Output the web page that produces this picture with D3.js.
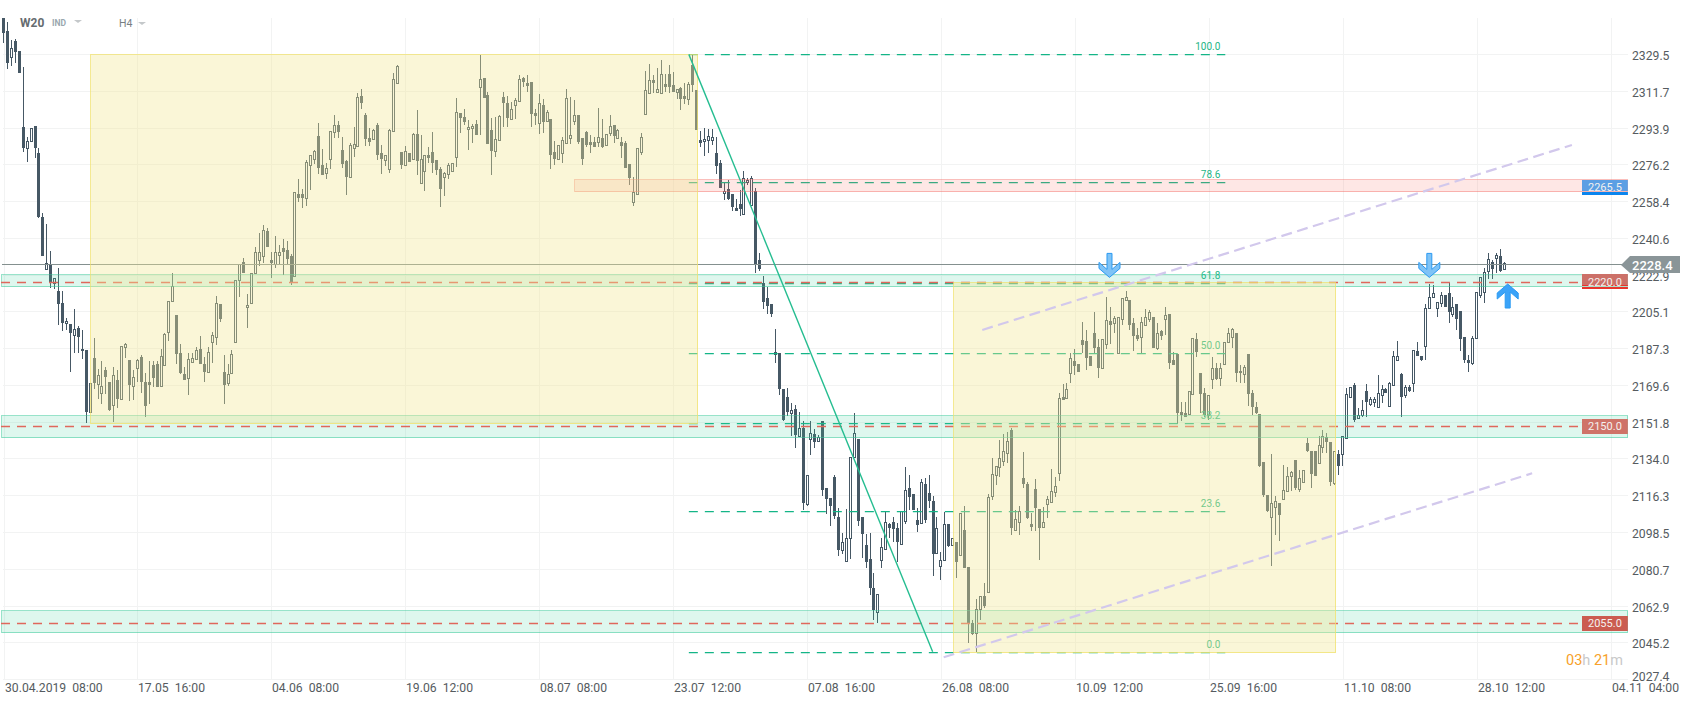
<!DOCTYPE html>
<html><head><meta charset="utf-8">
<script src="https://cdn.jsdelivr.net/npm/d3@7"></script>
<style>html,body{margin:0;padding:0;background:#fff}svg{display:block;font-family:Roboto,sans-serif}</style>
</head><body><svg id="c" width="1692" height="705"></svg>
<script>
// open, high, low, close for each 4-hour bar
const ohlc = [
[2347.2,2347.2,2335.5,2340.3],[2341.1,2345.3,2322.9,2325.5],[2328.7,2336.8,2324.4,2332.7],[2336.4,2337.1,2325.8,2331.1],[2331.4,2331.4,2321,2321],[2294.7,2323.6,2282.8,2284.7],[2284.7,2289.7,2278,2287.8],[2287.8,2294.1,2287.8,2294.1],[2295,2295,2279.9,2284.4],[2282.2,2284.4,2250.9,2251.2],
[2251,2253,2232.5,2232.5],[2225.9,2247.8,2225.9,2228.8],[2228,2234.8,2217.1,2219.2],[2219.2,2221.6,2216.6,2221.6],[2215.5,2226.6,2199.2,2209.3],[2209.7,2215.5,2196.3,2199.8],[2199.8,2202.6,2196.6,2200.8],[2199.3,2199.3,2176.5,2195.3],[2194.4,2206.8,2185.7,2196.9],[2197.6,2198.4,2185.7,2193.4],
[2187.3,2196.6,2182.8,2186.2],[2187,2187,2151.5,2156.7],[2156.7,2170.8,2156.7,2170.8],[2182.9,2192.6,2167.9,2170.8],[2170.5,2177.6,2163.4,2174.7],[2166,2181.5,2160.8,2169.5],[2177.3,2178.6,2165.7,2174],[2171.5,2171.5,2157.5,2158],[2160.5,2178.6,2152.3,2174.7],[2172.4,2177.3,2158.9,2163.4],
[2163.4,2188.9,2163.4,2188.9],[2188.6,2190.2,2182.9,2189.7],[2182.1,2182.1,2162.1,2170.2],[2169.7,2177.3,2162.5,2173.7],[2178.4,2182.4,2171.2,2182.1],[2183.6,2184.4,2166.3,2171.2],[2171.5,2176,2154.7,2160],[2171.5,2181.5,2160.8,2170],[2179.7,2181.8,2169.2,2173.6],[2180.2,2181.8,2168.9,2169.1],
[2169.7,2187.3,2169.7,2184.1],[2179.5,2195.3,2179.5,2194.7],[2195.8,2210.5,2191.4,2210.5],[2210.8,2224,2210.8,2217.7],[2203.9,2203.9,2180.3,2185.2],[2185.3,2189.8,2175.3,2175.7],[2175.3,2178.9,2172.6,2172.6],[2173.6,2185.3,2165.2,2182.4],[2181.3,2185.3,2181.3,2182.9],[2182.8,2188.2,2182.8,2187],
[2187.3,2193.7,2180.3,2180.3],[2180.2,2183.4,2171.6,2176.5],[2176.3,2188.6,2176,2186],[2190.6,2195.6,2180.8,2194],[2193.4,2213,2189.4,2209.5],[2209.2,2209.2,2200.6,2202.1],[2176.2,2184.5,2160.8,2170.2],[2170.8,2180.2,2169.5,2175.2],[2175.7,2187,2175.7,2184.8],[2190.6,2220.8,2190.6,2220.8],
[2220.8,2228.5,2212.7,2228.5],[2229.3,2231.2,2224.3,2224.3],[2207.6,2214,2197.6,2208.9],[2209.5,2224.3,2209.5,2224.3],[2224,2236.6,2224,2234.5],[2230.6,2243.7,2227.7,2234.1],[2232.5,2247.4,2228.8,2244.9],[2244.6,2245.7,2236.9,2236.9],[2230.6,2234.5,2221.9,2229],[2228.5,2242,2226.4,2234.1],
[2232.9,2237.7,2228.5,2234.1],[2236.1,2240.6,2223.2,2234.1],[2235.3,2239.8,2228,2230.9],[2232.4,2233.3,2218.4,2219.5],[2222.5,2263.1,2222.5,2263.1],[2262.2,2269.4,2258.3,2260.4],[2262.2,2264.8,2255.7,2260.4],[2260.4,2278.8,2256.7,2277.6],[2276.5,2281,2264.3,2281],[2279.4,2283.6,2276.8,2283.1],
[2290.4,2296.5,2272,2275.1],[2276.2,2284.1,2271.5,2271.5],[2272.6,2277.2,2269.6,2274.7],[2279.4,2292.6,2274.3,2292.6],[2292.5,2300.4,2289.6,2295.5],[2295.5,2297.6,2289.6,2292.5],[2283.6,2289.7,2275.1,2276.8],[2278.3,2278.8,2261.9,2270.7],[2270.7,2286.8,2270.7,2285.9],[2284.7,2294.9,2280.4,2286.7],
[2285.7,2311,2285.7,2309],[2309.7,2312.9,2303.6,2306.5],[2300.4,2301.3,2285.7,2289.1],[2289.2,2294.1,2285.7,2287.6],[2288.8,2293.6,2288.8,2293.1],[2295.5,2296.5,2278.8,2281.4],[2282,2286,2272,2279.4],[2278.9,2281,2276,2281],[2274.6,2293.6,2272.3,2293.1],[2292.6,2320.7,2292.6,2317.8],
[2315.8,2324.5,2315.8,2324.2],[2282.5,2282.5,2274.4,2276.5],[2276.5,2285.7,2276.5,2283],[2282,2282,2277.6,2277.6],[2279.4,2291.7,2279.4,2291.3],[2291.3,2302.9,2271.5,2278.4],[2267.5,2290.9,2267.5,2279.1],[2273.6,2281,2263.9,2281],[2281,2285.2,2277.2,2279.6],[2282.5,2292.3,2272.3,2277.5],
[2278.8,2278.8,2271.5,2273.9],[2274.3,2275.2,2256.2,2264.9],[2270.7,2273.1,2261.5,2272.3],[2271.8,2277.5,2269.6,2276.4],[2273.6,2277.5,2273.6,2277.2],[2280.4,2308.6,2275.6,2301.8],[2301.3,2301.3,2292,2299.2],[2299.4,2303.4,2295.7,2297.1],[2293.6,2298.1,2283.6,2294.6],[2294.1,2296,2286.8,2295.4],
[2296.2,2298.1,2290.9,2290.9],[2313.9,2329.5,2290.9,2317.8],[2318.2,2318.2,2308.6,2308.9],[2310,2311.6,2286.7,2286.7],[2293.3,2298.9,2271.7,2283.3],[2283.3,2299.4,2280.4,2288.8],[2288.4,2300.5,2288.4,2300],[2309,2311.6,2294.6,2306.3],[2306.2,2309.9,2294.6,2299.1],[2298.7,2307,2298.1,2303.4],
[2305.2,2308.9,2298.7,2307.8],[2307.4,2319.9,2307.4,2317.8],[2318.2,2319,2314.2,2316.6],[2315.8,2319.9,2311.8,2314.7],[2316.5,2316.5,2294.9,2301.2],[2301.3,2303.3,2295.7,2300],[2296.8,2310.7,2291.3,2306.2],[2305.4,2308.3,2291.7,2297.3],[2297.8,2302.9,2297.3,2301.8],[2298.6,2298.6,2274.4,2281.3],
[2282.5,2287.9,2276.4,2279.4],[2279.4,2285.9,2279.4,2285.9],[2282.3,2289.7,2277.2,2288.3],[2286.8,2312.9,2286.8,2308.6],[2289.6,2309,2286.3,2290.7],[2297.8,2307.8,2295.8,2300.4],[2300.4,2300.4,2286.5,2287.6],[2289.2,2289.2,2276.4,2279.4],[2292.3,2292.8,2285.2,2286.2],[2287.5,2290.7,2282.3,2286.2],
[2287.5,2289.7,2284.9,2285.2],[2287.6,2303.7,2285.2,2289.7],[2289.2,2298.4,2284.6,2285.2],[2285.9,2291.2,2285.9,2291.2],[2292,2300.5,2290.4,2295.4],[2295.5,2295.5,2286.8,2290.5],[2289.6,2293.9,2289.6,2293.1],[2287.5,2289.7,2279.6,2285.5],[2287,2288.1,2275.1,2275.1],[2276.7,2276.7,2266.7,2270.1],
[2258.6,2270.7,2256.7,2263.1],[2262.2,2284.4,2262.2,2284.4],[2282.5,2291.7,2281.2,2290],[2300.8,2321.9,2300.8,2312.4],[2311.3,2325.2,2311.3,2317.3],[2317.3,2319.9,2311,2316],[2311.6,2323,2311,2312.9],[2311.3,2327.1,2310.7,2320.2],[2315.3,2320.2,2311.5,2314.2],[2320.2,2324.7,2311,2314.2],
[2314.9,2321.5,2311.6,2311.6],[2311.6,2312.9,2308.3,2312.9],[2313.4,2314.2,2302.9,2308.3],[2309.7,2315.8,2305.8,2308.3],[2308.1,2316.3,2305.4,2315.3],[2324.5,2329.5,2311.8,2315],[2312.4,2312.4,2293.4,2293.4],[2288.3,2292.8,2284.9,2287],[2287.8,2294.2,2280.7,2288.9],[2288.4,2293.6,2282,2290.5],
[2288.4,2293.6,2286,2289.7],[2282,2289.7,2272,2276],[2277.2,2278.8,2265.4,2265.4],[2262.7,2267.5,2259.4,2263.8],[2264.6,2269.1,2259.4,2259.9],[2262.3,2262.3,2254.1,2256.1],[2255.6,2259.8,2254.3,2254.3],[2257.5,2264.3,2251.9,2255.1],[2252.7,2273.5,2252.2,2269.9],[2268.3,2269.9,2266.7,2268.9],
[2257,2271,2257,2269.9],[2263.8,2265.1,2224,2228.3],[2230.4,2233.7,2225.3,2226.1],[2219.2,2222.7,2206.8,2210.3],[2211.9,2217.2,2204.2,2208.4],[2209.2,2209.2,2203,2204.3],[2185.8,2197.1,2180.8,2184.7],[2185.3,2185.3,2165.2,2168.1],[2168.1,2168.1,2152.8,2153.1],[2164.1,2168.4,2155.2,2156.8],
[2156.5,2161.2,2145.5,2157.8],[2158.3,2160.4,2139.7,2145.9],[2145.5,2157.1,2145.5,2149.1],[2149.1,2152.8,2109.6,2113.1],[2112.5,2126.4,2111.5,2126.4],[2143.8,2152.8,2136.2,2146.7],[2146.2,2148.6,2139.7,2142.6],[2143.1,2145.9,2143.1,2144.7],[2152.5,2152.5,2116.4,2119],[2120.4,2120.4,2107.5,2115.1],
[2115.2,2115.2,2102,2111.7],[2125.6,2126.5,2105.3,2106.9],[2106.2,2110.4,2087.4,2090],[2090.4,2098.3,2088.2,2094],[2084.8,2109.9,2084.8,2095.9],[2095.9,2135.1,2086,2135.1],[2135.4,2156.3,2135.4,2146.7],[2143.9,2143.9,2101.6,2104.4],[2106.4,2106.4,2086.6,2098.2],[2092.8,2098,2081.7,2084.2],
[2085.9,2098.3,2068.5,2072.1],[2071.7,2079,2056.4,2061.3],[2060.3,2068.8,2054.8,2068.8],[2085.3,2095.9,2081.7,2091.6],[2090.6,2109.3,2090.6,2103.6],[2102.8,2103.5,2095.9,2101],[2103.6,2106.4,2094.3,2100.6],[2100.9,2103.2,2084.6,2094],[2093.3,2109.3,2093,2109.3],[2104.3,2130.2,2102.7,2119.1],
[2120.2,2126.5,2109.6,2115.7],[2117.2,2117.2,2109.4,2109.4],[2104.8,2110.4,2098.7,2102.4],[2103.2,2124.4,2103.2,2123],[2122.2,2124.9,2103.2,2104.5],[2117.8,2126.4,2110.4,2114],[2113.8,2116.1,2077.9,2088.5],[2089,2106.4,2088.4,2100.9],[2082.4,2089.5,2075.5,2085.3],[2085.3,2108.8,2085.3,2102.8],
[2102.8,2102.8,2091.9,2092.4],[2092.7,2095.9,2092.7,2095.9],[2094,2094,2076.9,2084.2],[2088,2108,2088,2108],[2099.9,2111.5,2081.3,2081.3],[2081.9,2081.9,2045.5,2054.3],[2054.8,2056.4,2049.2,2049.5],[2050,2066.4,2041.1,2061.8],[2061.6,2068.2,2056.4,2068.2],[2068,2074.2,2062.4,2063.4],
[2069.8,2117.3,2069.8,2115.7],[2116.1,2134.6,2114.4,2126.8],[2126.7,2130.6,2121.7,2130.6],[2130.4,2143.4,2125.7,2134.6],[2133.3,2146.2,2131,2138.1],[2137,2147.5,2132.2,2143],[2148.3,2149.1,2097.7,2101.1],[2100,2109.6,2099.6,2105.1],[2103.7,2111.5,2097.7,2109],[2125.1,2137.5,2120.1,2122.3],
[2122.2,2123.3,2105.1,2105.9],[2102.7,2108,2099.6,2101.4],[2119.6,2124.6,2099.5,2110.3],[2109.9,2109.9,2085.4,2100.9],[2101.2,2111.2,2100.8,2103.6],[2112.5,2116.1,2105.9,2114.8],[2113.3,2129.4,2112.8,2118.6],[2118.5,2125.7,2115.7,2121],[2127.3,2166.3,2123.8,2163.6],[2164.1,2170.5,2162.8,2162.8],
[2163.6,2171.1,2163.6,2167.9],[2175.7,2185.3,2170.8,2182.9],[2181.8,2187.4,2174.9,2179.4],[2180,2180,2176.5,2176.5],[2191.8,2200.3,2185.3,2189.4],[2191.3,2196.6,2177.3,2183.2],[2184,2184,2179.2,2179.4],[2195,2205.1,2184.8,2188.1],[2188.4,2192.3,2173.6,2178.4],[2178.4,2192.3,2178.4,2192.3],
[2190,2212.7,2187.4,2201.4],[2200.9,2207.7,2190,2199],[2200.2,2203.4,2195,2202.2],[2185.3,2202.7,2185.3,2202.7],[2201.8,2211.9,2199,2211.9],[2211.1,2215.4,2210.6,2212.7],[2211.1,2211.1,2196.6,2199],[2199.8,2202.2,2186.6,2193.9],[2194.2,2197.4,2191.4,2192.4],[2193.3,2203,2185.3,2200.3],
[2199,2206.7,2199,2203],[2201.7,2206.3,2200.6,2205.1],[2202.7,2203,2187.7,2187.7],[2187.7,2199.8,2186.9,2195],[2196.1,2196.6,2191.8,2193.8],[2201.7,2207.5,2194.2,2203.7],[2204.3,2204.3,2177.6,2180.5],[2182.1,2186.1,2179.7,2179.7],[2185,2185,2151.2,2156.3],[2156.8,2161.6,2152.6,2155.5],
[2156.3,2162,2154.7,2154.7],[2156,2167.1,2156,2167.1],[2165.5,2192.6,2165.5,2192.6],[2192.1,2195.3,2183.7,2186],[2175.7,2175.7,2156.3,2165.5],[2166,2168.4,2154.7,2155.5],[2155.5,2165.2,2153.1,2165.2],[2173.1,2183.4,2167.9,2178.4],[2178.1,2180.5,2172.4,2172.7],[2173.2,2180.5,2169.7,2178.1],
[2180.2,2191,2180.2,2191],[2190.6,2197.4,2190.6,2195],[2193.4,2197.7,2187.7,2197.1],[2195,2195,2171.3,2176],[2176.9,2179.7,2170.8,2175.6],[2175.2,2179.7,2170.8,2178.5],[2185,2185,2159.9,2165.5],[2166,2167.6,2155.5,2159.5],[2159.2,2162,2156,2156.6],[2155.8,2155.8,2130.5,2130.9],
[2132.6,2132.6,2115.7,2116.8],[2116.8,2116.8,2108.8,2109.1],[2106.4,2136.7,2082.7,2112.8],[2111.2,2116.4,2097.5,2114],[2112.8,2112.8,2094.8,2107.2],[2115.1,2131.3,2115.1,2119.3],[2118.9,2130.5,2118.9,2126],[2126.2,2128.4,2118.9,2128],[2133.7,2133.7,2119.3,2120],[2119.9,2128.9,2118.5,2124.9],
[2123.3,2128.9,2123.3,2128.9],[2141.8,2144.2,2137.8,2138.3],[2138.1,2138.1,2120.1,2126.8],[2138.3,2138.3,2126.2,2126.2],[2132.5,2145.4,2132.5,2140.8],[2140.2,2148,2137,2145.4],[2145,2146.7,2137,2142.2],[2142.2,2142.2,2121.3,2123.3],[2122.5,2138.1,2121.7,2138.1],[2136.7,2138.6,2126.5,2131],
[2136.5,2145.5,2131,2145.5],[2144.5,2168.4,2143.7,2165.7],[2164.4,2168.9,2164.4,2168.9],[2170,2170.8,2152.3,2153.1],[2153.9,2158.7,2153.6,2155.5],[2155.5,2162.8,2154.7,2158],[2167,2170.5,2154.7,2161.8],[2160.8,2164.1,2159.9,2163.1],[2162,2164.4,2159.2,2163.1],[2159.5,2174.8,2158.7,2166],
[2165.2,2170,2161.1,2167.9],[2168.1,2168.7,2166,2166.3],[2159.9,2171.3,2159.5,2170.8],[2170.2,2186.4,2170.2,2184],[2182.1,2191.3,2182.1,2184],[2175.3,2175.7,2154.7,2164.4],[2165.2,2170,2163.6,2168.9],[2168.9,2170,2166.8,2167.1],[2171.1,2186.9,2166.8,2186.9],[2186.4,2190.9,2184,2184.2],
[2184,2184,2181.8,2182.1],[2189,2209.2,2182.1,2207.1],[2207.4,2218.8,2207.4,2212.7],[2212.4,2218.3,2212.4,2214.6],[2207.4,2210.1,2203,2210.1],[2209.5,2215.1,2207.5,2213.3],[2213.7,2213.7,2207.5,2207.9],[2214.3,2219.8,2199.8,2205.5],[2204.3,2212.7,2203,2207.9],[2209.2,2209.2,2196.6,2202.1],
[2205.8,2205.8,2186.4,2192.4],[2193.4,2193.4,2180.5,2182.1],[2182.1,2184.5,2176.5,2180.8],[2180.5,2193.7,2179.7,2192.6],[2192.6,2214.8,2192.6,2214.8],[2213.3,2222,2211.9,2222],[2215.1,2226.4,2209.8,2224.8],[2225.3,2233.6,2221.1,2230.7],[2229.6,2230.4,2221.1,2226.1],[2231.5,2233.6,2224,2232.7],
[2232.4,2235.6,2224.8,2225.1],[2225.9,2229.3,2225.9,2228.8]
];
const priceTicks = ["2329.5","2311.7","2293.9","2276.2","2258.4","2240.6","2222.9","2205.1","2187.3","2169.6","2151.8","2134.0","2116.3","2098.5","2080.7","2062.9","2045.2","2027.4"];
const dateTicks = ["30.04.2019  08:00","17.05  16:00","04.06  08:00","19.06  12:00","08.07  08:00","23.07  12:00","07.08  16:00","26.08  08:00","10.09  12:00","25.09  16:00","11.10  08:00","28.10  12:00","04.11  04:00"];
const barsPerDateTick = 34;
const lastPrice = 2228.4;
// [first bar, last bar, high price, low price]
const yellowBoxes = [[22,176,2330,2151.5],[241,338,2219.6,2040.8]];
// [high, low, level price]
const greenZones = [[2223.5,2218,2220],[2155.3,2145,2150],[2061.3,2050.8,2055]];
const pinkZone = {from:145,hi:2269.4,lo:2263.9,level:2265.5};
const zoneEndBar = 412.4;
const fibLevels = ["100.0","78.6","61.8","50.0","38.2","23.6","0.0"];
const fibPrices = [2329.8,2268,2219.5,2185.5,2151.4,2109.2,2041.1];
const fibBars = [174,310.2];
const trendLine = [[174,2329.8],[235.9,2041.1]];
const channelUpper = [[248.5,2196.6],[398.2,2286]];
const channelLower = [[238.7,2038.4],[388.1,2127.3]];
// [bar, tip price, direction]
const arrows = [[280.8,2222,"down"],[362,2222,"down"],[381.9,2218.8,"up"]];

const svg = d3.select("#c");
const x = d3.scaleLinear().domain([0,408]).range([3.5,1610.5]);
const y = d3.scaleLinear().domain([2329.5,2027.4]).range([55,680]);
const px = v => Math.round(x(v));
const py = v => Math.round(y(v));

// grid
const grid = svg.append("g").attr("shape-rendering","crispEdges").attr("stroke","#f2f3f3");
priceTicks.forEach(t=>grid.append("line").attr("x1",3).attr("x2",1628).attr("y1",py(+t)-.5).attr("y2",py(+t)-.5));
dateTicks.forEach((t,i)=>grid.append("line").attr("x1",px(i*barsPerDateTick)+.5).attr("x2",px(i*barsPerDateTick)+.5).attr("y1",18).attr("y2",680));

// candles
const dark = "#465865";
const cg = svg.append("g").attr("shape-rendering","crispEdges");
ohlc.forEach((d,i)=>{
  const [o,h,l,c] = d, cx = Math.floor(x(i));
  cg.append("line").attr("x1",cx+.5).attr("x2",cx+.5).attr("y1",y(h)).attr("y2",y(l)).attr("stroke",dark);
  const top = Math.round(y(Math.max(o,c))), bot = Math.round(y(Math.min(o,c)));
  if (c < o) cg.append("rect").attr("x",cx-1).attr("y",top).attr("width",3).attr("height",Math.max(bot-top,2)).attr("fill",dark);
  else cg.append("rect").attr("x",cx-.5).attr("y",top+.5).attr("width",2).attr("height",Math.max(bot-top,1)).attr("fill","#fff").attr("stroke",dark);
});

// current price line
svg.append("line").attr("x1",2).attr("x2",1624).attr("y1",py(lastPrice)+.5).attr("y2",py(lastPrice)+.5)
  .attr("stroke","#84908f").attr("stroke-width",1).attr("shape-rendering","crispEdges");

// fibonacci levels
const fg = svg.append("g");
fibLevels.forEach((t,i)=>{
  fg.append("line").attr("x1",x(fibBars[0])).attr("x2",x(fibBars[1])).attr("y1",py(fibPrices[i])+.5).attr("y2",py(fibPrices[i])+.5)
    .attr("stroke","#14b587").attr("stroke-width",1.25).attr("stroke-dasharray","9,7");
  fg.append("text").attr("x",x(fibBars[1])-5).attr("y",py(fibPrices[i])-4).attr("text-anchor","end")
    .attr("font-size",10).attr("fill","#22b585").text(t);
});

// zones
const zg = svg.append("g").attr("shape-rendering","crispEdges");
greenZones.forEach(z=>zg.append("rect").attr("x",1.5).attr("y",py(z[0])+.5).attr("width",x(zoneEndBar)-1.5).attr("height",py(z[1])-py(z[0]))
  .attr("fill","rgba(60,205,155,.17)").attr("stroke","rgba(50,200,150,.5)"));
zg.append("rect").attr("x",x(pinkZone.from)).attr("y",py(pinkZone.hi)+.5).attr("width",x(zoneEndBar)-x(pinkZone.from)).attr("height",py(pinkZone.lo)-py(pinkZone.hi))
  .attr("fill","rgba(248,110,100,.17)").attr("stroke","rgba(245,110,105,.45)");

// red levels
const lev = svg.append("g");
greenZones.forEach(z=>lev.append("line").attr("x1",1).attr("x2",1582).attr("y1",py(z[2])+.5).attr("y2",py(z[2])+.5)
  .attr("stroke","#e0675c").attr("stroke-width",1.4).attr("stroke-dasharray","9,7"));

// level tags
const tag = (level,top,bot,bg,band,lineAt,lineColour)=>{
  const x0 = 1582, x1 = x(zoneEndBar);
  svg.append("rect").attr("x",x0).attr("y",top).attr("width",x1-x0).attr("height",bot-top).attr("fill",bg);
  if (band) svg.append("rect").attr("x",x0).attr("y",bot-4).attr("width",x1-x0).attr("height",4).attr("fill",band);
  svg.append("text").attr("x",(x0+x1)/2).attr("y",py(level)+4).attr("text-anchor","middle").attr("font-size",11).attr("fill","#f4f1ef").text(level.toFixed(1));
  if (lineAt) svg.append("line").attr("x1",x0).attr("x2",x1).attr("y1",py(lineAt)+.5).attr("y2",py(lineAt)+.5).attr("stroke",lineColour).attr("shape-rendering","crispEdges");
};
tag(pinkZone.level,180,195,"#5b9fe4","#0b85ee",pinkZone.lo,"#f6b5b2");
tag(2220,274,289,"#cc7068","#e8352d",2218,"#a8e0cb");
tag(2150,419,434,"#cf7368");
tag(2055,616,631,"#cb5c50");

// yellow boxes
const yg = svg.append("g").attr("shape-rendering","crispEdges");
yellowBoxes.forEach(b=>yg.append("rect").attr("x",px(b[0])+.5).attr("y",py(b[2])+.5).attr("width",px(b[1])-px(b[0])).attr("height",py(b[3])-py(b[2]))
  .attr("fill","rgba(242,231,150,.38)").attr("stroke","rgba(240,225,110,.75)"));

// trend + channel
const line = d3.line().x(d=>x(d[0])).y(d=>y(d[1]));
svg.append("path").attr("d",line(trendLine)).attr("fill","none").attr("stroke","#25bd90").attr("stroke-width",1.4);
[channelUpper,channelLower].forEach(c=>svg.append("path").attr("d",line(c)).attr("fill","none")
  .attr("stroke","#d2c8ec").attr("stroke-width",2.2).attr("stroke-dasharray","11,5.5"));

// arrows
const downShape = [[-2.5,-24],[2.5,-24],[2.5,-8],[10.5,-15],[10.5,-9],[0,0],[-10.5,-9],[-10.5,-15],[-2.5,-8]];
arrows.forEach(a=>{
  const s = a[2]==="down" ? 1 : -1;
  const p = downShape.map(q=>[x(a[0])+q[0], y(a[1])+s*q[1]]);
  svg.append("polygon").attr("points",p.map(q=>q.join(",")).join(" "))
    .attr("fill",a[2]==="down"?"#7fc3f6":"#3ba3f8").attr("stroke","#2a9af2").attr("stroke-width",1);
});

// axis labels
const ax = svg.append("g").attr("font-size",12.2).attr("fill","#555b60");
priceTicks.forEach(t=>{
  const v = +t;
  ax.append("text").attr("x",1632).attr("y",(v<2030?py(v)-4:py(v)+.5)+4.5).text(t);
});
dateTicks.forEach((t,i)=>ax.append("text").attr("x",px(i*barsPerDateTick)+1).attr("y",692).style("white-space","pre").text(t));

// last price tag
const ly = py(lastPrice);
svg.append("path").attr("d",`M1621,${ly+1}L1630,${ly-8}H1680V${ly+9}H1630Z`).attr("fill","#8a9598");
svg.append("text").attr("x",1632).attr("y",ly+5.5).attr("font-size",13).attr("font-weight",500).attr("fill","#fff").text(lastPrice.toFixed(1));

// timer
const tm = svg.append("text").attr("x",1566).attr("y",665).attr("font-size",14.5);
[["03","#f7a12a"],["h","#c9c9c9"],[" 21","#f7a12a"],["m","#c9c9c9"]].forEach(s=>tm.append("tspan").attr("fill",s[1]).style("white-space","pre").text(s[0]));

// header
svg.append("text").attr("x",20).attr("y",27).attr("font-size",12).attr("font-weight",700).attr("fill","#666c70").text("W20");
svg.append("text").attr("x",52).attr("y",26).attr("font-size",8.5).attr("font-weight",700).attr("fill","#9aa7ae").text("IND");
svg.append("path").attr("d","M74,20h8l-4,3z").attr("fill","#c4c8ca");
svg.append("text").attr("x",119).attr("y",26.5).attr("font-size",10.5).attr("fill","#787f84").text("H4");
svg.append("path").attr("d","M138,22h8l-4,3z").attr("fill","#c4c8ca");
</script></body></html>
